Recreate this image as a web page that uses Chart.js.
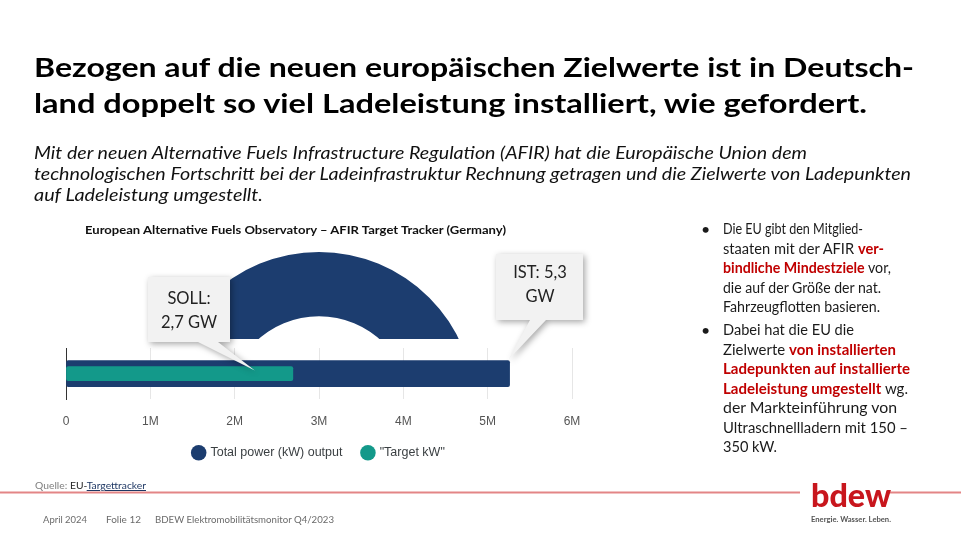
<!DOCTYPE html>
<html>
<head>
<meta charset="utf-8">
<script src="https://cdn.jsdelivr.net/npm/chart.js@4.4.1/dist/chart.umd.min.js"></script>
<style>
  html, body { margin: 0; padding: 0; background: #fff; }
  body { width: 961px; height: 541px; position: relative; overflow: hidden; }
  #gaugeClip { position: absolute; left: 149px; top: 238px; width: 340px; height: 101px; overflow: hidden; z-index: 1; }
  #gaugeClip canvas { position: absolute; left: 0; top: 0; }
  #barBox { position: absolute; left: 40px; top: 240px; width: 560px; height: 229px; z-index: 2; }
  #texts { position: absolute; left: 0; top: 0; z-index: 3; pointer-events: none; }
</style>
</head>
<body>

<div id="gaugeClip"><canvas id="gaugeChart" width="340" height="340"></canvas></div>
<div id="barBox"><canvas id="afirChart" width="560" height="229"></canvas></div>

<svg id="texts" width="961" height="541" xmlns="http://www.w3.org/2000/svg" font-family="Lato, 'Noto Sans', sans-serif">
  <!-- headline -->
  <text x="34" y="77" font-size="26.5" font-weight="bold" fill="#000" textLength="880" lengthAdjust="spacingAndGlyphs">Bezogen auf die neuen europäischen Zielwerte ist in Deutsch-</text>
  <text x="34" y="113" font-size="26.5" font-weight="bold" fill="#000" textLength="833" lengthAdjust="spacingAndGlyphs">land doppelt so viel Ladeleistung installiert, wie gefordert.</text>

  <!-- sub headline -->
  <g font-size="17" font-style="italic" fill="#111">
    <text x="34" y="159" textLength="773" lengthAdjust="spacingAndGlyphs">Mit der neuen Alternative Fuels Infrastructure Regulation (AFIR) hat die Europäische Union dem</text>
    <text x="34" y="180" textLength="877" lengthAdjust="spacingAndGlyphs">technologischen Fortschritt bei der Ladeinfrastruktur Rechnung getragen und die Zielwerte von Ladepunkten</text>
    <text x="34" y="201" textLength="229" lengthAdjust="spacingAndGlyphs">auf Ladeleistung umgestellt.</text>
  </g>

  <!-- chart title -->
  <text x="85" y="234" font-size="12" font-weight="bold" fill="#111" textLength="421" lengthAdjust="spacingAndGlyphs">European Alternative Fuels Observatory – AFIR Target Tracker (Germany)</text>

  <!-- bullets -->
  <g font-size="14.5" fill="#1a1a1a">
    <text x="701" y="235" font-size="16">•</text>
    <text x="723" y="234" textLength="140" lengthAdjust="spacingAndGlyphs">Die EU gibt den Mitglied-</text>
    <text x="723" y="254" textLength="161" lengthAdjust="spacingAndGlyphs">staaten mit der AFIR <tspan fill="#c00000" font-weight="bold">ver-</tspan></text>
    <text x="723" y="273" textLength="168" lengthAdjust="spacingAndGlyphs"><tspan fill="#c00000" font-weight="bold">bindliche Mindestziele</tspan> vor,</text>
    <text x="723" y="293" textLength="158" lengthAdjust="spacingAndGlyphs">die auf der Größe der nat.</text>
    <text x="723" y="312" textLength="157" lengthAdjust="spacingAndGlyphs">Fahrzeugflotten basieren.</text>

    <text x="701" y="336" font-size="16">•</text>
    <text x="723" y="335" textLength="131" lengthAdjust="spacingAndGlyphs">Dabei hat die EU die</text>
    <text x="723" y="355" textLength="173" lengthAdjust="spacingAndGlyphs">Zielwerte <tspan fill="#c00000" font-weight="bold">von installierten</tspan></text>
    <text x="723" y="374" textLength="187" lengthAdjust="spacingAndGlyphs"><tspan fill="#c00000" font-weight="bold">Ladepunkten auf installierte</tspan></text>
    <text x="723" y="394" textLength="185" lengthAdjust="spacingAndGlyphs"><tspan fill="#c00000" font-weight="bold">Ladeleistung umgestellt</tspan> wg.</text>
    <text x="723" y="413" textLength="174" lengthAdjust="spacingAndGlyphs">der Markteinführung von</text>
    <text x="723" y="433" textLength="185" lengthAdjust="spacingAndGlyphs">Ultraschnellladern mit 150 –</text>
    <text x="723" y="452" textLength="54" lengthAdjust="spacingAndGlyphs">350 kW.</text>
  </g>

  <!-- source + footer -->
  <text x="35" y="489" font-size="10" fill="#7f7f7f" textLength="111" lengthAdjust="spacingAndGlyphs">Quelle: <tspan fill="#262626">EU-</tspan><tspan fill="#1f3864" text-decoration="underline">Targettracker</tspan></text>
  <line x1="0" y1="492.5" x2="800" y2="492.5" stroke="#e38586" stroke-width="2"/>
  <line x1="887" y1="492.5" x2="961" y2="492.5" stroke="#e38586" stroke-width="2"/>
  <g font-size="9" fill="#6b6b6b">
    <text x="43" y="523" textLength="44" lengthAdjust="spacingAndGlyphs">April 2024</text>
    <text x="106" y="523" textLength="35" lengthAdjust="spacingAndGlyphs">Folie 12</text>
    <text x="155" y="523" textLength="179" lengthAdjust="spacingAndGlyphs">BDEW Elektromobilitätsmonitor Q4/2023</text>
  </g>

  <!-- logo -->
  <text x="811" y="507" font-size="33" font-weight="900" fill="#c8161d" textLength="80" lengthAdjust="spacingAndGlyphs">bdew</text>
  <text x="811" y="522" font-size="7" font-weight="bold" fill="#555" textLength="80" lengthAdjust="spacingAndGlyphs">Energie. Wasser. Leben.</text>
</svg>

<script>
// data (kW)
var categories     = ['Germany'];
var totalPowerKW   = [5260000];
var targetKW       = [2690000];
var gaugeValues    = [5260000];
var xTickLabels    = ['0', '1M', '2M', '3M', '4M', '5M', '6M'];
var calloutLabels  = [['SOLL:', '2,7 GW'], ['IST: 5,3', 'GW']];

var navy = '#1c3d6f';
var teal = '#13998a';

// ---------- gauge (only its upper part is visible on the slide)
var gctx = document.getElementById('gaugeChart').getContext('2d');
var gaugeChart = new Chart(gctx, {
    type: 'doughnut',
    data: {
        labels: categories,
        datasets: [{
            data: gaugeValues,
            backgroundColor: [navy],
            borderWidth: 0,
            radius: 156,
            cutout: 100
        }]
    },
    options: {
        responsive: false,
        animation: false,
        plugins: { legend: { display: false }, tooltip: { enabled: false } }
    }
});

// ---------- callouts, pinned to the bar ends
var calloutPlugin = {
    id: 'callouts',
    afterDraw: function(chart){
        var ctx = chart.ctx;
        var xs = chart.scales.x;
        var yMid = chart.scales.y.getPixelForValue(0);
        var boxes = [
            // box left/top/right/bottom, pointer base, tip
            { l: 108, t: 37, r: 190, b: 102, b1: 158, b2: 178,
              tipX: xs.getPixelForValue(targetKW[0]) - 38, tipY: yMid - 3, lines: calloutLabels[0], cx: 149, ly: [64, 88] },
            { l: 456, t: 14, r: 543, b: 80, b1: 490, b2: 506,
              tipX: xs.getPixelForValue(totalPowerKW[0]) - 1, tipY: yMid - 14, lines: calloutLabels[1], cx: 500, ly: [38, 62] }
        ];
        boxes.forEach(function(c){
            ctx.save();
            ctx.shadowColor = 'rgba(0,0,0,0.35)';
            ctx.shadowBlur = 6;
            ctx.shadowOffsetX = 2;
            ctx.shadowOffsetY = 2;
            ctx.fillStyle = '#f2f2f2';
            ctx.beginPath();
            ctx.moveTo(c.l, c.t);
            ctx.lineTo(c.r, c.t);
            ctx.lineTo(c.r, c.b);
            ctx.lineTo(c.b2, c.b);
            ctx.lineTo(c.tipX, c.tipY);
            ctx.lineTo(c.b1, c.b);
            ctx.lineTo(c.l, c.b);
            ctx.closePath();
            ctx.fill();
            ctx.restore();

            ctx.save();
            ctx.fillStyle = '#222';
            ctx.font = '16.5px Lato, "Noto Sans", sans-serif';
            ctx.textAlign = 'center';
            ctx.textBaseline = 'alphabetic';
            ctx.fillText(c.lines[0], c.cx, c.ly[0]);
            ctx.fillText(c.lines[1], c.cx, c.ly[1]);
            ctx.restore();
        });
    }
};

var ctx = document.getElementById('afirChart').getContext('2d');
var afirChart = new Chart(ctx, {
    type: 'bar',
    data: {
        labels: categories,
        datasets: [{
            label: 'Total power (kW) output',
            data: totalPowerKW,
            backgroundColor: navy,
            borderRadius: 2,
            borderSkipped: false,
            barThickness: 26,
            grouped: false,
            order: 2
        }, {
            label: '"Target kW"',
            data: targetKW,
            backgroundColor: teal,
            borderRadius: 2,
            borderSkipped: false,
            barThickness: 14,
            grouped: false,
            order: 1
        }]
    },
    options: {
        indexAxis: 'y',
        responsive: false,
        animation: false,
        layout: { padding: { left: 26, right: 28, top: 108, bottom: 0 } },
        scales: {
            x: {
                min: 0,
                max: 6000000,
                ticks: {
                    stepSize: 1000000,
                    padding: 15,
                    color: '#555',
                    font: { family: '"Liberation Sans", Arial, sans-serif', size: 12 },
                    maxRotation: 0,
                    callback: function(v, i){ return xTickLabels[i]; }
                },
                grid: { color: '#e6e6e6', drawTicks: false },
                border: { display: false },
                afterFit: function(s){ s.height = s.height - 17; }
            },
            y: {
                ticks: { display: false },
                grid: { display: false, drawTicks: false },
                border: { display: true, color: '#333', width: 1 },
                afterFit: function(s){ s.width = 0; }
            }
        },
        plugins: {
            tooltip: { enabled: false },
            legend: {
                position: 'bottom',
                labels: {
                    usePointStyle: true,
                    pointStyle: 'circle',
                    boxWidth: 11,
                    boxHeight: 11,
                    padding: 20,
                    color: '#3a3f42',
                    font: { family: '"Liberation Sans", Arial, sans-serif', size: 12.5 },
                    sort: function(a, b){ return a.datasetIndex - b.datasetIndex; }
                }
            }
        }
    },
    plugins: [calloutPlugin]
});
</script>
</body>
</html>
